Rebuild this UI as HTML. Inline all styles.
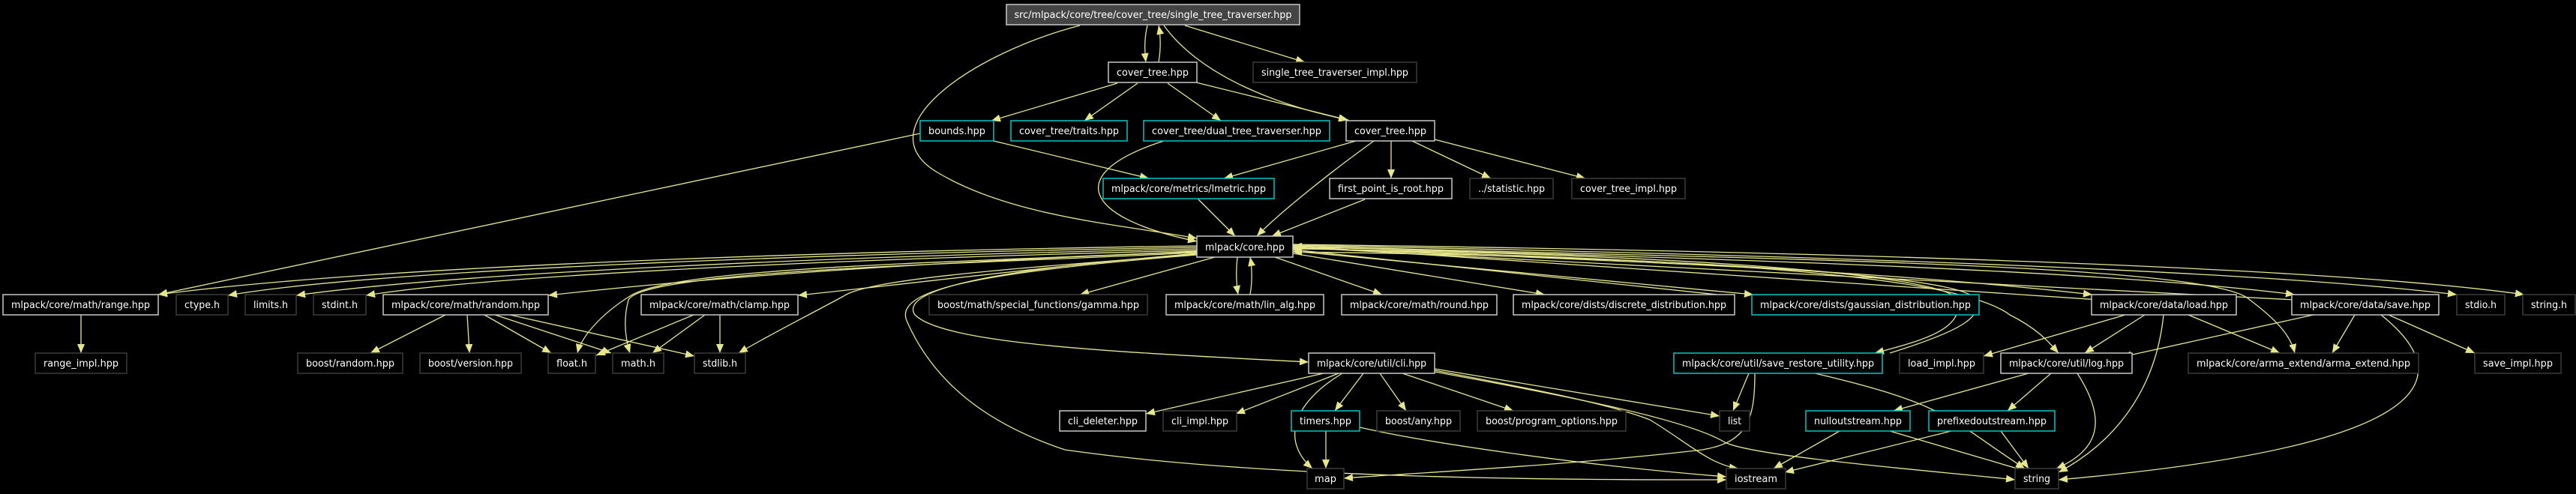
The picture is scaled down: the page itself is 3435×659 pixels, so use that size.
<!DOCTYPE html>
<html><head><meta charset="utf-8"><style>
html,body{margin:0;padding:0;background:#000;}
svg{display:block}
text{font-family:"DejaVu Sans","Liberation Sans",sans-serif;font-size:13px;fill:#fff;text-anchor:middle}
.e{fill:none;stroke:#e6e68c;stroke-width:1.3;marker-end:url(#a)}
.W{fill:#000;stroke:#c8c8c8;stroke-width:1.5}
.C{fill:#000;stroke:#00c8c8;stroke-width:1.5}
.D{fill:#000;stroke:#3c3c3c;stroke-width:1.5}
.R{fill:#444;stroke:#c8c8c8;stroke-width:1.5}
</style></head><body>
<svg width="3435" height="659" viewBox="0 0 3435 659" xmlns="http://www.w3.org/2000/svg">
<defs><marker id="a" markerUnits="userSpaceOnUse" markerWidth="14" markerHeight="10" refX="12" refY="5" orient="auto"><path d="M0,0 L12,5 L0,10 z" fill="#e6e68c"/></marker></defs>
<rect width="3435" height="659" fill="#000"/>
<g>
<!-- root edges -->
<path class="e" d="M1530,34 C1526,50 1526,65 1528,83"/>
<path class="e" d="M1545,83 C1548,65 1548,50 1545,34"/>
<path class="e" d="M1580,34 L1740,83"/>
<path class="e" d="M1552,34 C1600,100 1700,140 1798,160"/>
<path class="e" d="M1440,34 C1300,70 1150,170 1250,230 C1350,290 1500,300 1596,318"/>
<!-- cover_tree1 -->
<path class="e" d="M1490,111 L1322,161"/>
<path class="e" d="M1517,111 L1446,161"/>
<path class="e" d="M1557,111 L1628,161"/>
<path class="e" d="M1595,110 L1797,160"/>
<!-- bounds -->
<path class="e" d="M1227,178 L211,393"/>
<path class="e" d="M1325,188 L1532,238"/>
<!-- dual -> core -->
<path class="e" d="M1552,188 C1420,230 1440,290 1596,322"/>
<!-- cover_tree2 -->
<path class="e" d="M1808,188 L1632,238"/>
<path class="e" d="M1832,188 C1760,240 1700,290 1676,315"/>
<path class="e" d="M1855,188 L1855,238"/>
<path class="e" d="M1883,188 L1988,238"/>
<path class="e" d="M1913,186 L2114,238"/>
<path class="e" d="M1598,266 L1647,315"/>
<path class="e" d="M1820,266 L1696,315"/>
<!-- core left fan -->
<path class="e" d="M1596,328 C1100,335 500,355 211,393"/>
<path class="e" d="M1596,330 C1100,338 500,360 304,394"/>
<path class="e" d="M1596,332 C1100,342 600,365 395,394"/>
<path class="e" d="M1596,334 C1100,346 650,368 488,394"/>
<path class="e" d="M1596,336 C1200,350 900,375 731,394"/>
<path class="e" d="M1596,338 C1400,355 1200,380 1064,394"/>
<path class="e" d="M1596,335 C1300,350 900,355 840,395 C800,420 775,450 770,471"/>
<path class="e" d="M1596,337 C1300,352 860,360 838,400 C830,430 835,455 840,471"/>
<path class="e" d="M1596,339 C1400,355 1160,370 1125,395 C1060,430 1020,450 985,471"/>
<path class="e" d="M1620,343 L1440,393"/>
<path class="e" d="M1650,343 C1648,360 1648,375 1651,393"/>
<path class="e" d="M1667,393 C1670,375 1670,360 1667,343"/>
<path class="e" d="M1700,343 L1843,393"/>
<path class="e" d="M1724,338 L2060,393"/>
<path class="e" d="M1724,335 L2338,393"/>
<path class="e" d="M2290,393 L1724,333"/>
<path class="e" d="M1724,332 C2300,340 2600,370 2610,400 C2620,440 2560,455 2500,471"/>
<path class="e" d="M2520,471 C2620,440 2650,420 2630,395 C2580,360 2100,340 1724,336"/>
<path class="e" d="M1724,330 C2200,350 2500,360 2790,393"/>
<path class="e" d="M1724,331 C2200,345 2600,360 2680,420 C2720,440 2735,460 2745,471"/>
<path class="e" d="M1724,329 C2300,345 2800,360 3060,393"/>
<path class="e" d="M1724,328 C2300,345 2950,350 3000,400 C3040,430 3055,450 3060,471"/>
<path class="e" d="M1724,327 C2400,340 3000,360 3276,393"/>
<path class="e" d="M1724,326 C2400,335 3100,355 3366,393"/>
<path class="e" d="M3060,400 L1724,330"/>
<path class="e" d="M2800,400 L1724,328"/>
<!-- core -> cli / map / iostream -->
<path class="e" d="M1596,339 C1300,360 1200,390 1220,420 C1260,460 1500,470 1745,483"/>
<path class="e" d="M1596,340 C1280,365 1190,390 1210,430 C1250,520 1330,570 1420,600 C1700,640 2100,640 2302,640"/>
<!-- range -->
<path class="e" d="M108,420 L108,471"/>
<!-- random -->
<path class="e" d="M594,420 L494,471"/>
<path class="e" d="M623,420 L626,471"/>
<path class="e" d="M646,420 L735,471"/>
<path class="e" d="M660,420 L815,471"/>
<path class="e" d="M680,420 L926,475"/>
<!-- clamp -->
<path class="e" d="M925,420 L795,474"/>
<path class="e" d="M940,420 L870,471"/>
<path class="e" d="M960,420 L960,471"/>
<!-- cli -->
<path class="e" d="M1765,498 L1528,552"/>
<path class="e" d="M1785,498 L1648,552"/>
<path class="e" d="M1790,498 C1720,540 1710,590 1750,625"/>
<path class="e" d="M1818,498 L1780,548"/>
<path class="e" d="M1840,498 L1875,548"/>
<path class="e" d="M1870,498 L2018,548"/>
<path class="e" d="M1913,492 L2293,555"/>
<path class="e" d="M1913,494 C2050,520 2150,540 2200,560 C2250,590 2280,620 2318,625"/>
<path class="e" d="M1913,496 C2100,530 2250,560 2300,590 C2340,610 2600,630 2687,640"/>
<!-- timers -->
<path class="e" d="M1768,575 L1768,625"/>
<path class="e" d="M1813,570 C1900,590 2100,620 2302,636"/>
<!-- save_restore -->
<path class="e" d="M2332,498 L2311,548"/>
<path class="e" d="M2340,498 C2340,560 2330,590 2270,600 C2100,620 1900,630 1792,638"/>
<path class="e" d="M2420,498 C2600,540 2600,560 2700,625"/>
<!-- load -->
<path class="e" d="M2834,420 L2645,475"/>
<path class="e" d="M2860,420 L2780,471"/>
<path class="e" d="M2918,420 L3040,471"/>
<path class="e" d="M2885,420 C2875,520 2820,590 2745,630"/>
<!-- save -->
<path class="e" d="M3085,420 L2830,476"/>
<path class="e" d="M3140,420 L3110,471"/>
<path class="e" d="M3185,420 L3300,471"/>
<path class="e" d="M3175,420 C3300,520 3200,600 2745,640"/>
<!-- log -->
<path class="e" d="M2705,498 L2525,548"/>
<path class="e" d="M2735,498 L2677,548"/>
<path class="e" d="M2770,498 C2810,560 2800,600 2742,625"/>
<!-- outstreams -->
<path class="e" d="M2453,575 L2365,625"/>
<path class="e" d="M2520,575 L2700,628"/>
<path class="e" d="M2602,575 L2380,630"/>
<path class="e" d="M2668,575 L2705,625"/>
</g>
<!-- nodes -->
<g>
<rect class="R" x="1342" y="6" width="391" height="27"/><text x="1537.5" y="24" textLength="370" lengthAdjust="spacingAndGlyphs">src/mlpack/core/tree/cover_tree/single_tree_traverser.hpp</text>
<rect class="W" x="1478" y="83" width="118" height="27"/><text x="1537" y="101" textLength="96" lengthAdjust="spacingAndGlyphs">cover_tree.hpp</text>
<rect class="D" x="1671" y="83" width="218" height="27"/><text x="1780" y="101" textLength="196" lengthAdjust="spacingAndGlyphs">single_tree_traverser_impl.hpp</text>
<rect class="C" x="1227" y="161" width="98" height="27"/><text x="1276" y="179" textLength="76" lengthAdjust="spacingAndGlyphs">bounds.hpp</text>
<rect class="C" x="1348" y="161" width="155" height="27"/><text x="1425.5" y="179" textLength="133" lengthAdjust="spacingAndGlyphs">cover_tree/traits.hpp</text>
<rect class="C" x="1525" y="161" width="248" height="27"/><text x="1649" y="179" textLength="226" lengthAdjust="spacingAndGlyphs">cover_tree/dual_tree_traverser.hpp</text>
<rect class="W" x="1795" y="161" width="118" height="27"/><text x="1854" y="179" textLength="96" lengthAdjust="spacingAndGlyphs">cover_tree.hpp</text>
<rect class="C" x="1471" y="238" width="228" height="27"/><text x="1585" y="256" textLength="206" lengthAdjust="spacingAndGlyphs">mlpack/core/metrics/lmetric.hpp</text>
<rect class="W" x="1773" y="238" width="163" height="27"/><text x="1854.5" y="256" textLength="141" lengthAdjust="spacingAndGlyphs">first_point_is_root.hpp</text>
<rect class="D" x="1960" y="238" width="111" height="27"/><text x="2015.5" y="256" textLength="89" lengthAdjust="spacingAndGlyphs">../statistic.hpp</text>
<rect class="D" x="2096" y="238" width="151" height="27"/><text x="2171.5" y="256" textLength="129" lengthAdjust="spacingAndGlyphs">cover_tree_impl.hpp</text>
<rect class="W" x="1596" y="315" width="128" height="28"/><text x="1660" y="334" textLength="106" lengthAdjust="spacingAndGlyphs">mlpack/core.hpp</text>

<rect class="W" x="4" y="393" width="207" height="27"/><text x="107.5" y="411" textLength="185" lengthAdjust="spacingAndGlyphs">mlpack/core/math/range.hpp</text>
<rect class="D" x="235" y="393" width="69" height="27"/><text x="269.5" y="411" textLength="47" lengthAdjust="spacingAndGlyphs">ctype.h</text>
<rect class="D" x="327" y="393" width="68" height="27"/><text x="361" y="411" textLength="46" lengthAdjust="spacingAndGlyphs">limits.h</text>
<rect class="D" x="418" y="393" width="70" height="27"/><text x="453" y="411" textLength="48" lengthAdjust="spacingAndGlyphs">stdint.h</text>
<rect class="W" x="511" y="393" width="220" height="27"/><text x="621" y="411" textLength="198" lengthAdjust="spacingAndGlyphs">mlpack/core/math/random.hpp</text>
<rect class="W" x="855" y="393" width="209" height="27"/><text x="959.5" y="411" textLength="187" lengthAdjust="spacingAndGlyphs">mlpack/core/math/clamp.hpp</text>
<rect class="D" x="1239" y="393" width="291" height="27"/><text x="1384.5" y="411" textLength="269" lengthAdjust="spacingAndGlyphs">boost/math/special_functions/gamma.hpp</text>
<rect class="W" x="1555" y="393" width="210" height="27"/><text x="1660" y="411" textLength="188" lengthAdjust="spacingAndGlyphs">mlpack/core/math/lin_alg.hpp</text>
<rect class="W" x="1789" y="393" width="207" height="27"/><text x="1892.5" y="411" textLength="185" lengthAdjust="spacingAndGlyphs">mlpack/core/math/round.hpp</text>
<rect class="W" x="2018" y="393" width="295" height="27"/><text x="2165.5" y="411" textLength="273" lengthAdjust="spacingAndGlyphs">mlpack/core/dists/discrete_distribution.hpp</text>
<rect class="C" x="2336" y="393" width="303" height="27"/><text x="2487.5" y="411" textLength="281" lengthAdjust="spacingAndGlyphs">mlpack/core/dists/gaussian_distribution.hpp</text>
<rect class="W" x="2789" y="393" width="193" height="27"/><text x="2885.5" y="411" textLength="171" lengthAdjust="spacingAndGlyphs">mlpack/core/data/load.hpp</text>
<rect class="W" x="3056" y="393" width="196" height="27"/><text x="3154" y="411" textLength="174" lengthAdjust="spacingAndGlyphs">mlpack/core/data/save.hpp</text>
<rect class="D" x="3276" y="393" width="64" height="27"/><text x="3308" y="411" textLength="42" lengthAdjust="spacingAndGlyphs">stdio.h</text>
<rect class="D" x="3364" y="393" width="70" height="27"/><text x="3399" y="411" textLength="48" lengthAdjust="spacingAndGlyphs">string.h</text>

<rect class="D" x="47" y="471" width="122" height="27"/><text x="108" y="489" textLength="100" lengthAdjust="spacingAndGlyphs">range_impl.hpp</text>
<rect class="D" x="397" y="471" width="140" height="27"/><text x="467" y="489" textLength="118" lengthAdjust="spacingAndGlyphs">boost/random.hpp</text>
<rect class="D" x="560" y="471" width="135" height="27"/><text x="627.5" y="489" textLength="113" lengthAdjust="spacingAndGlyphs">boost/version.hpp</text>
<rect class="D" x="731" y="471" width="63" height="27"/><text x="762.5" y="489" textLength="41" lengthAdjust="spacingAndGlyphs">float.h</text>
<rect class="D" x="817" y="471" width="68" height="27"/><text x="851" y="489" textLength="46" lengthAdjust="spacingAndGlyphs">math.h</text>
<rect class="D" x="926" y="471" width="68" height="27"/><text x="960" y="489" textLength="46" lengthAdjust="spacingAndGlyphs">stdlib.h</text>
<rect class="W" x="1745" y="471" width="168" height="27"/><text x="1829" y="489" textLength="146" lengthAdjust="spacingAndGlyphs">mlpack/core/util/cli.hpp</text>
<rect class="C" x="2232" y="471" width="278" height="27"/><text x="2371" y="489" textLength="256" lengthAdjust="spacingAndGlyphs">mlpack/core/util/save_restore_utility.hpp</text>
<rect class="D" x="2533" y="471" width="112" height="27"/><text x="2589" y="489" textLength="90" lengthAdjust="spacingAndGlyphs">load_impl.hpp</text>
<rect class="W" x="2668" y="471" width="175" height="27"/><text x="2755.5" y="489" textLength="153" lengthAdjust="spacingAndGlyphs">mlpack/core/util/log.hpp</text>
<rect class="D" x="2918" y="471" width="307" height="27"/><text x="3071.5" y="489" textLength="285" lengthAdjust="spacingAndGlyphs">mlpack/core/arma_extend/arma_extend.hpp</text>
<rect class="D" x="3300" y="471" width="115" height="27"/><text x="3357.5" y="489" textLength="93" lengthAdjust="spacingAndGlyphs">save_impl.hpp</text>

<rect class="W" x="1413" y="548" width="115" height="27"/><text x="1470.5" y="566" textLength="93" lengthAdjust="spacingAndGlyphs">cli_deleter.hpp</text>
<rect class="D" x="1551" y="548" width="98" height="27"/><text x="1600" y="566" textLength="76" lengthAdjust="spacingAndGlyphs">cli_impl.hpp</text>
<rect class="C" x="1722" y="548" width="91" height="27"/><text x="1767.5" y="566" textLength="69" lengthAdjust="spacingAndGlyphs">timers.hpp</text>
<rect class="D" x="1836" y="548" width="111" height="27"/><text x="1891.5" y="566" textLength="89" lengthAdjust="spacingAndGlyphs">boost/any.hpp</text>
<rect class="D" x="1970" y="548" width="198" height="27"/><text x="2069" y="566" textLength="176" lengthAdjust="spacingAndGlyphs">boost/program_options.hpp</text>
<rect class="D" x="2293" y="548" width="40" height="27"/><text x="2313" y="566" textLength="18" lengthAdjust="spacingAndGlyphs">list</text>
<rect class="C" x="2408" y="548" width="139" height="27"/><text x="2477.5" y="566" textLength="117" lengthAdjust="spacingAndGlyphs">nulloutstream.hpp</text>
<rect class="C" x="2572" y="548" width="168" height="27"/><text x="2656" y="566" textLength="146" lengthAdjust="spacingAndGlyphs">prefixedoutstream.hpp</text>

<rect class="D" x="1743" y="625" width="49" height="27"/><text x="1767.5" y="643" textLength="29" lengthAdjust="spacingAndGlyphs">map</text>
<rect class="D" x="2302" y="625" width="79" height="27"/><text x="2341.5" y="643" textLength="57" lengthAdjust="spacingAndGlyphs">iostream</text>
<rect class="D" x="2687" y="625" width="58" height="27"/><text x="2716" y="643" textLength="36" lengthAdjust="spacingAndGlyphs">string</text>
</g>
</svg>
</body></html>
